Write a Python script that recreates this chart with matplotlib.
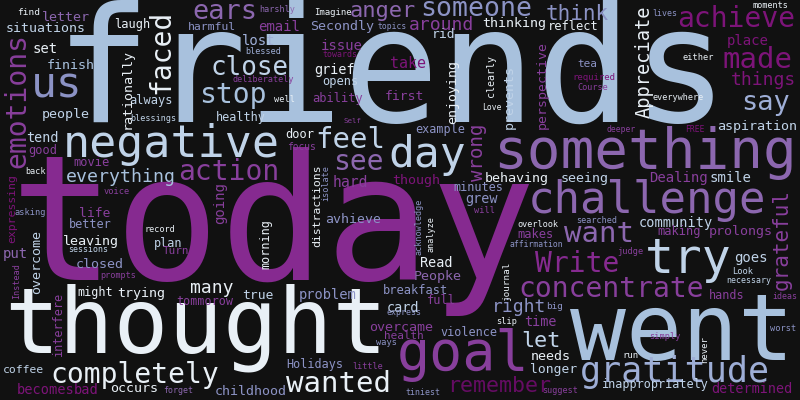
import matplotlib
matplotlib.use("Agg")
import matplotlib.pyplot as plt

DPI = 100
BG = "#111111"
FONT = "DejaVu Sans Mono"

PALETTE = {
    "W": "#e9f0f6", "L": "#c0d3e8", "B": "#a8c1dd", "G": "#9eaed6",
    "M": "#8c93c5", "P": "#8c67af", "R": "#883f9c", "T": "#862a90",
    "D": "#7d1479", "K": "#650c63",
}

# ---- horizontal words ----
h_words = [
    "friends", "today", "thought", "went", "something", "challenge", "goal", "negative",
    "day", "try", "gratitude", "completely", "wanted", "concentrate", "Write", "want",
    "action", "achieve", "made", "things", "say", "close", "stop", "feel",
    "see", "someone", "us", "ears", "anger", "think", "around", "thinking",
    "reflect", "rid", "take", "first", "though", "behaving", "seeing", "minutes",
    "grew", "example", "Love", "tea", "required", "Course", "moments", "lives",
    "place", "either", "everywhere", "deeper", "FREE", "aspiration", "Dealing", "smile",
    "find", "letter", "situations", "set", "finish", "laugh", "always", "blessings",
    "people", "tend", "good", "movie", "back", "everything", "voice", "harshly",
    "Imagine", "harmful", "email", "Secondly", "topics", "lost", "blessed", "issue",
    "towards", "grief", "deliberately", "opens", "well", "ability", "healthy", "Self",
    "door", "focus", "hard", "asking", "life", "better", "record", "leaving",
    "plan", "sessions", "Turn", "put", "closed", "prompts", "many", "might",
    "trying", "true", "problem", "tommorow", "coffee", "becomes", "bad", "occurs",
    "forget", "Holidays", "little", "childhood", "avhieve", "breakfast", "card", "express",
    "overcame", "health", "ways", "will", "overlook", "searched", "makes", "affirmation",
    "Read", "Peopke", "full", "right", "big", "slip", "time", "violence",
    "let", "needs", "longer", "remember", "tiniest", "suggest", "community", "making",
    "prolongs", "judge", "goes", "Look", "necessary", "hands", "ideas", "worst",
    "simply", "run", "inappropriately", "determined",
]
h_sizes = [
    160, 175, 91, 93, 56, 44, 55, 45,
    43, 48, 35, 28, 29, 28, 28, 29,
    28, 28, 29, 18, 27, 26, 28, 29,
    28, 26.5, 43, 27, 22, 21, 18, 13.4,
    12, 13, 15, 13, 13.4, 13.4, 13.4, 11.7,
    13.5, 11.7, 8, 11, 9, 8.5, 8.5, 8.3,
    14, 8.6, 8.5, 8, 8, 13.4, 14, 14,
    9.5, 13.4, 13.2, 14, 13.4, 12, 12, 8.5,
    13.4, 13.5, 12, 12, 8.5, 18.3, 8.6, 8.5,
    9, 11.5, 14, 13.4, 8, 14, 8.5, 14,
    8.3, 13.5, 8.5, 12, 8.7, 12, 11.7, 7.5,
    12, 9.7, 14.8, 8.6, 13, 11.7, 8.5, 13.4,
    11.7, 8.3, 11, 14, 13.4, 8.5, 18, 11.7,
    13.4, 13, 13.7, 11.7, 11.4, 13.6, 13.6, 13.4,
    8.3, 11.7, 8.5, 13.4, 13.2, 12, 13.5, 8.3,
    13.4, 11, 8.7, 8.7, 8.5, 8.5, 12, 8.2,
    13.5, 13.4, 12, 18, 9.4, 8.7, 13.5, 11.7,
    21.8, 13.4, 13, 21.7, 8.3, 8.5, 13.6, 12,
    13.4, 8.6, 14, 8.7, 8.3, 11.7, 8.3, 8.6,
    8.6, 9, 11.7, 13.5,
]
# layout: horizontal centre and baseline, in pixels
h_x = [
    392, 273, 196, 682, 645, 647, 463, 171,
    427, 688, 675, 135, 339, 611, 577, 599,
    229, 736, 758, 763, 766, 250, 233, 350,
    358, 476, 57, 225, 383, 577, 441, 514,
    573, 444, 408, 404, 416, 517, 585, 478,
    482, 440, 492, 587, 594, 593, 770, 665,
    748, 698, 678, 621, 695, 757, 678, 730,
    29, 66, 46, 45, 71, 132, 151, 153,
    66, 42, 43, 92, 36, 121, 117, 277,
    333, 212, 279, 342, 392, 259, 263, 342,
    340, 335, 263, 340, 284, 338, 241, 352,
    300, 301, 350, 30, 95, 90, 160, 91,
    168, 88, 176, 15, 100, 118, 212, 95,
    141, 258, 328, 205, 23, 46, 86, 134,
    178, 315, 368, 251, 353, 416, 403, 404,
    401, 404, 386, 485, 538, 597, 535, 536,
    436, 438, 441, 519, 555, 507, 540, 469,
    541, 551, 554, 499, 423, 560, 676, 679,
    741, 630, 751, 743, 749, 727, 785, 783,
    665, 630, 655, 752,
]
h_y = [
    122, 280, 352, 360, 168, 213, 370, 157,
    167, 273, 382, 383, 392, 297, 272, 242,
    180, 27, 68, 85, 110, 75, 103, 148,
    170, 16, 98, 19, 17, 20, 30, 27,
    30, 38, 68, 100, 184, 182, 182, 191,
    203, 133, 110, 67, 80, 90, 8, 16,
    45, 60, 100, 132, 132, 130, 182, 182,
    15, 21, 32, 53, 69, 28, 104, 121,
    118, 142, 154, 166, 174, 182, 194, 12,
    15, 30, 31, 30, 29, 45, 54, 50,
    57, 74, 82, 85, 102, 102, 121, 123,
    138, 150, 187, 215, 217, 228, 232, 245,
    247, 252, 254, 258, 268, 278, 293, 296,
    297, 299, 299, 305, 373, 394, 394, 392,
    393, 368, 369, 395, 223, 294, 312, 315,
    331, 339, 345, 213, 227, 223, 238, 247,
    267, 280, 304, 312, 309, 324, 326, 336,
    347, 360, 373, 392, 395, 393, 227, 235,
    235, 254, 262, 274, 283, 299, 299, 331,
    339, 358, 388, 393,
]
h_col = [
    "B", "T", "W", "B", "P", "P", "R", "L",
    "L", "L", "G", "W", "W", "R", "T", "P",
    "R", "D", "D", "D", "G", "L", "B", "L",
    "P", "M", "M", "P", "P", "M", "R", "W",
    "W", "L", "D", "R", "D", "W", "L", "M",
    "M", "M", "W", "M", "D", "R", "W", "M",
    "D", "W", "W", "R", "D", "L", "R", "L",
    "W", "P", "L", "W", "B", "W", "L", "L",
    "L", "L", "R", "R", "W", "B", "R", "P",
    "W", "M", "R", "M", "M", "G", "G", "R",
    "D", "W", "R", "L", "W", "R", "L", "R",
    "W", "R", "R", "M", "R", "M", "W", "W",
    "L", "L", "R", "P", "M", "R", "W", "W",
    "W", "L", "M", "R", "L", "D", "D", "W",
    "P", "M", "R", "M", "M", "M", "L", "M",
    "R", "R", "M", "R", "W", "M", "R", "M",
    "W", "P", "R", "M", "M", "W", "R", "M",
    "L", "W", "L", "K", "M", "R", "L", "R",
    "R", "R", "L", "L", "L", "R", "R", "M",
    "R", "W", "L", "D",
]

# ---- vertical words (read bottom to top) ----
v_words = [
    "emotions", "faced", "rationally", "expressing", "going", "distractions",
    "isolate", "enjoying", "clearly", "prevents", "perspective", "wrong",
    "Appreciate", "grateful", "overcome", "Instead", "interfere", "morning",
    "acknowledge", "analyze", "journal", "never",
]
v_sizes = [
    28, 28, 13.4, 11.5, 14, 11.5,
    8.5, 13.4, 10, 13.4, 13.2, 19,
    18.6, 21, 13.4, 8.5, 11.7, 11.7,
    8.5, 8.5, 9.3, 9,
]
# layout: baseline x and vertical centre, in pixels
v_x = [
    25, 169, 131, 15, 224, 320,
    328, 456, 494, 513, 546, 483,
    650, 788, 40, 19, 62, 269,
    421, 434, 509, 707,
]
v_y = [
    101, 52, 89, 209, 203, 206,
    183, 92, 76, 97, 85, 152,
    62, 240, 262, 281, 324, 244,
    227, 234, 281, 350,
]
v_col = [
    "R", "W", "W", "D", "R", "W",
    "M", "W", "W", "L", "R", "R",
    "W", "R", "L", "R", "R", "W",
    "M", "W", "W", "W",
]

fig = plt.figure(figsize=(8, 4), dpi=DPI)
fig.patch.set_facecolor(BG)
ax = fig.add_axes([0, 0, 1, 1])
ax.set_facecolor(BG)
ax.set_xlim(0, 800)
ax.set_ylim(400, 0)
ax.axis("off")

for w, s, x, y, c in zip(h_words, h_sizes, h_x, h_y, h_col):
    ax.text(x, y, w, fontsize=s * 72 / DPI, family=FONT, color=PALETTE[c],
            ha="center", va="baseline")

for w, s, x, y, c in zip(v_words, v_sizes, v_x, v_y, v_col):
    ax.text(x, y, w, fontsize=s * 72 / DPI, family=FONT, color=PALETTE[c],
            ha="center", va="baseline", rotation=90, rotation_mode="anchor")

fig.savefig("out.png", dpi=DPI, facecolor=BG)
